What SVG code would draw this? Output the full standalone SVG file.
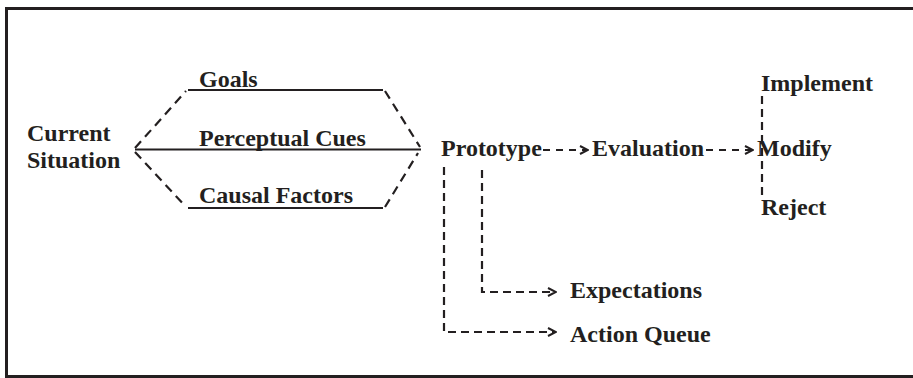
<svg xmlns="http://www.w3.org/2000/svg" width="913" height="378" viewBox="0 0 913 378">
<defs>
<marker id="ah" viewBox="0 0 10 10" refX="9" refY="5" markerWidth="10" markerHeight="10" markerUnits="userSpaceOnUse" orient="auto">
<path d="M1,1 L9,5 L1,9" fill="none" stroke="#231f20" stroke-width="2"/>
</marker>
<style>
text{font-family:'Liberation Serif',serif;font-weight:700;font-size:24px;fill:#231f20}
.solid{stroke:#231f20;stroke-width:2;fill:none}
.dash{stroke:#231f20;stroke-width:2.2;fill:none;stroke-dasharray:9,6}
.vd{stroke:#231f20;stroke-width:2.2;fill:none;stroke-dasharray:8,5}
.frame{stroke:#231f20;stroke-width:3;fill:none}
</style>
</defs>
<rect width="913" height="378" fill="#ffffff"/>
<path class="frame" d="M6.5,378 L6.5,8.5 L913,8.5 M6.5,376.5 L913,376.5"/>
<g id="connectors">
<line class="solid" x1="188" y1="90" x2="383" y2="90"/>
<line class="solid" x1="135" y1="149.5" x2="421" y2="149.5"/>
<line class="solid" x1="188" y1="208" x2="383" y2="208"/>
<line class="dash" x1="135" y1="148" x2="186" y2="91"/>
<line class="dash" x1="135" y1="152" x2="186" y2="207"/>
<line class="dash" x1="385" y1="91" x2="420" y2="147"/>
<line class="dash" x1="385" y1="207" x2="418" y2="153"/>
<line class="dash" x1="543" y1="150" x2="588" y2="150" marker-end="url(#ah)" style="stroke-dasharray:7,6"/>
<line class="dash" x1="706" y1="150" x2="753" y2="150" marker-end="url(#ah)" style="stroke-dasharray:7,6"/>
<line class="vd" x1="762" y1="96" x2="762" y2="198"/>
<path class="vd" d="M444,167 L444,332 L556,332" marker-end="url(#ah)"/>
<path class="vd" d="M482,170 L482,292 L556,292" marker-end="url(#ah)"/>
</g>
<g id="current"><text x="27" y="141">Current</text><text x="27" y="168">Situation</text></g>
<g id="goals"><text x="199" y="87">Goals</text></g>
<g id="cues"><text x="199" y="146">Perceptual Cues</text></g>
<g id="causal"><text x="199" y="203">Causal Factors</text></g>
<g id="prototype"><text x="441" y="156">Prototype</text></g>
<g id="evaluation"><text x="592" y="156">Evaluation</text></g>
<g id="modify"><text x="757" y="156">Modify</text></g>
<g id="implement"><text x="761" y="91">Implement</text></g>
<g id="reject"><text x="761" y="215">Reject</text></g>
<g id="expectations"><text x="570" y="298">Expectations</text></g>
<g id="actionqueue"><text x="570" y="342">Action Queue</text></g>
</svg>
